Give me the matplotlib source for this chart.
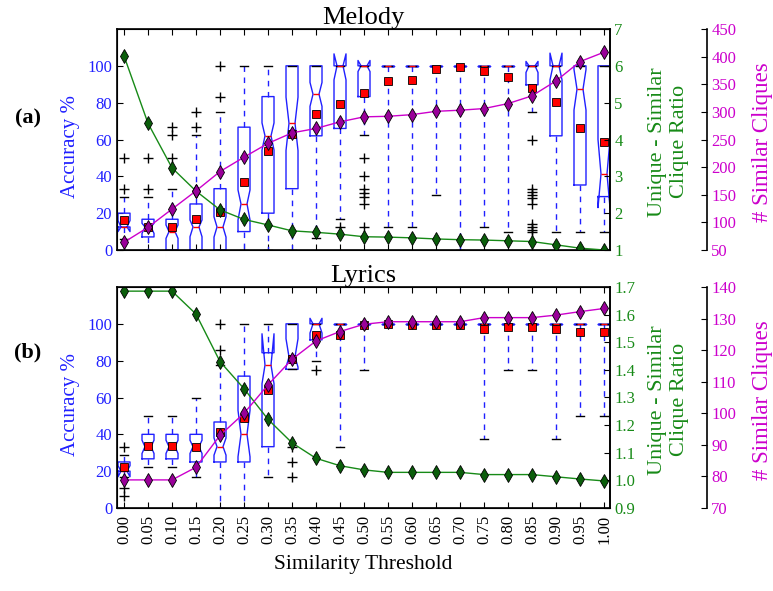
import matplotlib
matplotlib.use("Agg")
import matplotlib.pyplot as plt
from matplotlib.ticker import FormatStrFormatter

plt.rcParams['font.family'] = ['Liberation Serif', 'DejaVu Serif']

BLUE = "#2020ff"
GREEN = "#178a17"
DARK_GREEN = "#0b5e0b"
MAGENTA = "#cc00cc"
PURPLE = "#990099"

thresholds = [0.00, 0.05, 0.10, 0.15, 0.20, 0.25, 0.30, 0.35, 0.40, 0.45, 0.50,
              0.55, 0.60, 0.65, 0.70, 0.75, 0.80, 0.85, 0.90, 0.95, 1.00]
threshold_labels = ["0.00", "0.05", "0.10", "0.15", "0.20", "0.25", "0.30", "0.35",
                    "0.40", "0.45", "0.50", "0.55", "0.60", "0.65", "0.70", "0.75",
                    "0.80", "0.85", "0.90", "0.95", "1.00"]

# Melody accuracy box stats (%)
mel_q1 = [12.5, 7.1, 0, 0, 0, 10, 20, 33.3, 62, 66, 83.3, 100, 100, 100, 100, 100, 100, 89.7, 62, 35.3, 29]
mel_med = [12.5, 12.5, 10, 12.5, 12.5, 25, 62, 68.8, 84.6, 100, 100, 100, 100, 100, 100, 100, 100, 100, 100, 87.3, 41.3]
mel_q3 = [20, 16.7, 16.7, 25, 33.3, 66.7, 83.3, 100, 100, 100, 100, 100, 100, 100, 100, 100, 100, 100, 100, 100, 100]
mel_cilo = [10, 9, 6.3, 7.2, 7, 16.3, 54.3, 54, 78, 92.4, 96.9, 100, 100, 100, 100, 100, 100, 96.4, 92.4, 76, 23]
mel_cihi = [16, 14.5, 13.6, 16.3, 18, 32.6, 69, 83, 91, 106.5, 102.9, 100, 100, 100, 100, 100, 100, 102.4, 106.9, 98, 60]
mel_lo = [6, 0, 0, 0, 0, 0, 0, 0, 6.3, 16.7, 62.5, 12.5, 12.5, 30, 0, 12.5, 10, 75, 10, 10, 10]
mel_hi = [28.6, 28.6, 33.3, 62.5, 75, 100, 100, 100, 100, 100, 100, 100, 100, 100, 100, 100, 100, 100, 100, 100, 100]
mel_mean = [16.1, 12.3, 12.7, 16.8, 20.8, 37.1, 54, 62.9, 73.7, 79.2, 85.1, 92, 92.4, 98.4, 99.3, 97.1, 93.7, 87.9, 80.3, 66.1, 58.9]
mel_fliers = [[33.3, 50], [33.3, 50], [50, 62.5, 66.7], [66.7, 75], [83.3, 100], [], [], [], [],
              [12.5], [50, 40, 33.3, 30.8, 28.6, 25, 12.5], [], [], [], [], [], [],
              [60, 33.3, 31.3, 30, 28, 25, 14.3, 12.5, 11.1, 10], [], [], []]
mel_ratio = [6.27, 4.44, 3.23, 2.60, 2.09, 1.83, 1.68, 1.52, 1.48, 1.43, 1.36, 1.35, 1.33, 1.30,
             1.28, 1.27, 1.25, 1.23, 1.14, 1.05, 1.00]
mel_cliques = [64, 91, 124, 157, 192, 218, 243, 262, 270, 282, 291, 292, 295, 301, 303, 306, 315,
               329, 356, 391, 408]

# Lyrics accuracy box stats (%)
lyr_q1 = [20, 26.7, 26.7, 25, 25, 25, 33.3, 75.3, 91.3, 100, 100, 100, 100, 100, 100, 100, 100, 100, 100, 100, 100]
lyr_med = [20, 33.3, 33.3, 33.3, 33.3, 40, 77.6, 82, 100, 100, 100, 100, 100, 100, 100, 100, 100, 100, 100, 100, 100]
lyr_q3 = [25, 40, 40, 40, 46.7, 71.6, 84.3, 100, 100, 100, 100, 100, 100, 100, 100, 100, 100, 100, 100, 100, 100]
lyr_cilo = [17, 29.6, 29.6, 29.6, 28.7, 27.8, 67.5, 76.5, 95, 100, 100, 100, 100, 100, 100, 100, 100, 100, 100, 100, 100]
lyr_cihi = [23, 36.8, 36.8, 36.8, 38, 53, 94.6, 91.9, 103, 100, 100, 100, 100, 100, 100, 100, 100, 100, 100, 100, 100]
lyr_lo = [16.7, 22.2, 22.2, 16.7, 0, 0, 16.7, 75.3, 79.6, 33.3, 75, 100, 100, 100, 100, 37.5, 75, 75, 37.5, 50, 50]
lyr_hi = [28.6, 50, 50, 60, 77.8, 100, 100, 100, 100, 100, 100, 100, 100, 100, 100, 100, 100, 100, 100, 100, 100]
lyr_mean = [22, 33.6, 33.6, 33.3, 41.3, 48.6, 63.9, 81, 94, 93.7, 99.1, 100, 99.6, 99.6, 99.6, 97.1, 98.4,
            98.4, 97.1, 95.5, 95.5]
lyr_fliers = [[6.25, 11.1, 33.3], [], [], [], [85.7, 100], [], [], [33.3, 25, 16.7], [74.7],
              [], [], [], [], [], [], [], [], [], [], [], []]
lyr_ratio = [1.685, 1.685, 1.685, 1.602, 1.43, 1.332, 1.221, 1.136, 1.08, 1.053, 1.038, 1.029, 1.029,
             1.029, 1.029, 1.021, 1.021, 1.021, 1.013, 1.005, 0.998]
lyr_cliques = [78.9, 78.9, 78.9, 82.9, 93, 100, 109, 117.1, 122.9, 125.9, 128.2, 129, 129, 129, 129,
               130.3, 130.3, 130.3, 131.1, 132.2, 133.2]


def box_stats(q1, med, q3, cilo, cihi, lo, hi, mean, fliers):
    return [dict(q1=a, med=b, q3=c, cilo=d, cihi=e, whislo=f, whishi=g, mean=h, fliers=i)
            for a, b, c, d, e, f, g, h, i in zip(q1, med, q3, cilo, cihi, lo, hi, mean, fliers)]


def draw_panel(fig, rect, stats, ratio, cliques, ratio_lim, ratio_ticks, ratio_fmt,
               clique_lim, clique_ticks, title, tag, tag_y, show_x):
    ax = fig.add_axes(rect)
    ax.bxp(stats, positions=thresholds, widths=0.025, capwidths=0.015,
           shownotches=True, showmeans=True, manage_ticks=False,
           boxprops=dict(color=BLUE, lw=1),
           whiskerprops=dict(color=BLUE, lw=1, linestyle=(0, (4, 4))),
           capprops=dict(color="black", lw=1),
           medianprops=dict(color="red", lw=1),
           flierprops=dict(marker="+", markeredgecolor="black", markersize=6.5, mew=1),
           meanprops=dict(marker="s", markerfacecolor="red", markeredgecolor="black",
                          markersize=6, mew=0.6))
    ax.set_xlim(-0.0146, 1.0125)
    ax.set_ylim(0, 120)
    ax.set_yticks([0, 20, 40, 60, 80, 100])
    ax.set_xticks(thresholds)
    ax.set_xticklabels(threshold_labels, rotation=90)
    ax.tick_params(axis="x", direction="in", top=True, length=4, labelsize=12,
                   labelbottom=show_x, pad=5)
    ax.tick_params(axis="y", direction="in", length=4, labelsize=12, labelcolor=BLUE)
    ax.set_ylabel("Accuracy %", color=BLUE, fontsize=15)
    ax.yaxis.set_label_coords(-0.075, 0.47)
    ax.set_title(title, fontsize=19, pad=3)
    for spine in ax.spines.values():
        spine.set_linewidth(1.2)

    ax2 = ax.twinx()
    ax2.plot(thresholds, ratio, color=GREEN, lw=1, marker="d", markersize=7.5,
             markerfacecolor=DARK_GREEN, markeredgecolor="black", mew=0.6)
    ax2.set_ylim(*ratio_lim)
    ax2.set_yticks(ratio_ticks)
    ax2.yaxis.set_major_formatter(FormatStrFormatter(ratio_fmt))
    ax2.tick_params(axis="y", direction="in", length=4, labelsize=12, labelcolor=GREEN, pad=3)
    ax2.set_ylabel("Unique - Similar\nClique Ratio", color=GREEN, fontsize=16)
    ax2.yaxis.set_label_coords(1.077, 0.49)
    ax2.spines["right"].set_linewidth(1.2)

    ax3 = ax.twinx()
    ax3.plot(thresholds, cliques, color=MAGENTA, lw=1, marker="d", markersize=7.5,
             markerfacecolor=PURPLE, markeredgecolor="black", mew=0.6)
    ax3.set_ylim(*clique_lim)
    ax3.set_yticks(clique_ticks)
    ax3.spines["right"].set_position(("axes", 1.197))
    for side in ("top", "bottom", "left"):
        ax3.spines[side].set_visible(False)
    ax3.spines["right"].set_linewidth(1.2)
    ax3.tick_params(axis="y", direction="in", length=4, labelsize=12, labelcolor=MAGENTA, pad=3)
    ax3.set_ylabel("# Similar Cliques", color=MAGENTA, fontsize=16.5)
    ax3.yaxis.set_label_coords(1.288, 0.49)

    fig.text(28 / 773, tag_y, tag, ha="center", va="center", fontsize=16, fontweight="bold")
    return ax


fig = plt.figure(figsize=(7.73, 5.91), dpi=100)

melody = box_stats(mel_q1, mel_med, mel_q3, mel_cilo, mel_cihi, mel_lo, mel_hi, mel_mean, mel_fliers)
lyrics = box_stats(lyr_q1, lyr_med, lyr_q3, lyr_cilo, lyr_cihi, lyr_lo, lyr_hi, lyr_mean, lyr_fliers)

draw_panel(fig, [117 / 773, 1 - 250 / 591, 493 / 773, 221 / 591], melody,
           mel_ratio, mel_cliques, (1, 7), [1, 2, 3, 4, 5, 6, 7], "%d",
           (50, 450), list(range(50, 451, 50)), "Melody", "(a)", 1 - 118 / 591, False)
bottom = draw_panel(fig, [117 / 773, 1 - 508 / 591, 493 / 773, 221 / 591], lyrics,
                    lyr_ratio, lyr_cliques, (0.9, 1.7),
                    [0.9, 1.0, 1.1, 1.2, 1.3, 1.4, 1.5, 1.6, 1.7], "%.1f",
                    (70, 140), list(range(70, 141, 10)), "Lyrics", "(b)", 1 - 352 / 591, True)
bottom.set_xlabel("Similarity Threshold", fontsize=15.5, labelpad=8)

fig.savefig("out.png", dpi=100)
